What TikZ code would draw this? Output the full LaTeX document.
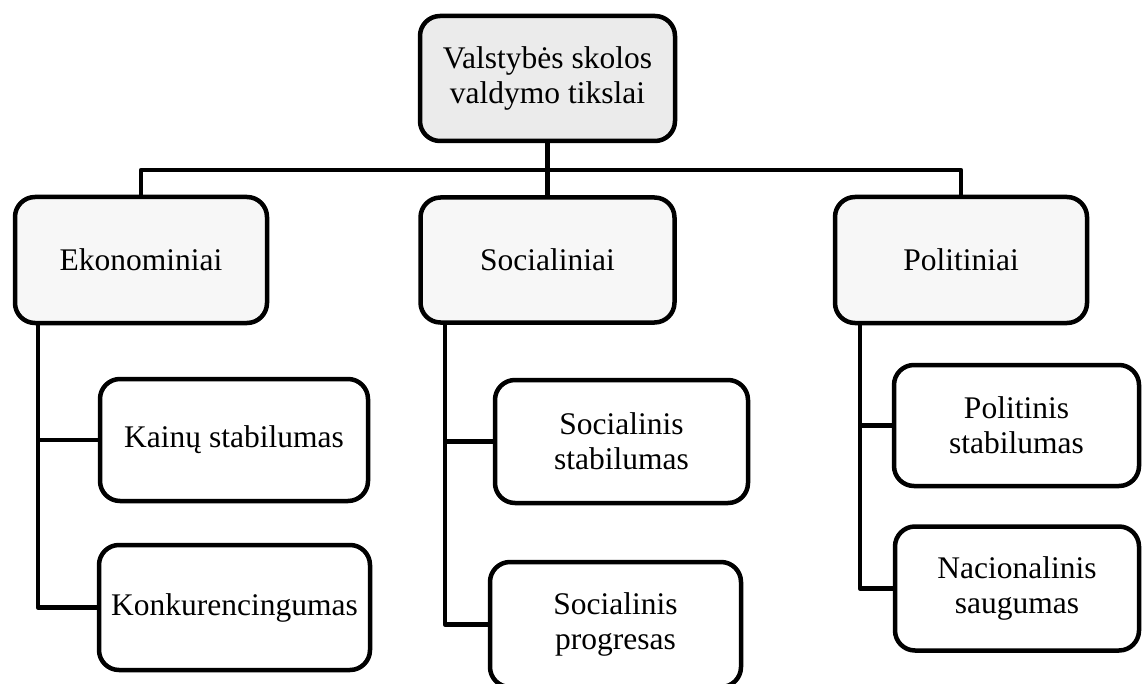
\documentclass[tikz,border=0pt]{standalone}
\usepackage{fontspec}
\setmainfont{Liberation Serif}
\begin{document}
\begin{tikzpicture}[x=1pt,y=-1pt,
  box/.style={draw=black, line width=4.5pt, rounded corners=20pt, inner sep=0pt,
    align=center, font=\fontsize{31.5}{35}\selectfont, text=black},
  rootbox/.style={box, fill={rgb,255:red,235;green,235;blue,235}},
  groupbox/.style={box, fill={rgb,255:red,247;green,247;blue,247}},
  leafbox/.style={box, fill=white},
  link/.style={draw=black, line width=4.5pt, line join=round}]
\clip (0,0) rectangle (1142,684);
\fill[white] (0,0) rectangle (1142,684);

% root
\node[rootbox, minimum width=255pt, minimum height=125pt] (root) at (547.5,78.5)
  {Valstybės skolos\\valdymo tikslai};

% groups
\node[groupbox, minimum width=252pt, minimum height=126pt] (eko) at (141,260) {Ekonominiai};
\node[groupbox, minimum width=254pt, minimum height=125pt] (soc) at (547.5,260) {Socialiniai};
\node[groupbox, minimum width=252pt, minimum height=126pt] (pol) at (961,260) {Politiniai};

% leaves
\node[leafbox, minimum width=268pt, minimum height=122pt] (kain) at (234,440) {Kainų stabilumas};
\node[leafbox, minimum width=271pt, minimum height=125pt] (konk) at (234.5,607.5) {Konkurencingumas};
\node[leafbox, minimum width=253pt, minimum height=123pt] (sstab) at (621.5,441.5) {Socialinis\\stabilumas};
\node[leafbox, minimum width=251pt, minimum height=125pt] (sprog) at (615.5,624.5) {Socialinis\\progresas};
\node[leafbox, minimum width=245pt, minimum height=121pt] (pstab) at (1016.5,425.5) {Politinis\\stabilumas};
\node[leafbox, minimum width=244pt, minimum height=124pt] (nac) at (1017,588.5) {Nacionalinis\\saugumas};

% root to groups
\coordinate (hub) at (547.5,170);
\draw[link] (root.south) -- (hub);
\draw[link] (hub) -| (eko.north);
\draw[link] (hub) -- (soc.north);
\draw[link] (hub) -| (pol.north);

% groups to leaves
\coordinate (ekoT) at ([xshift=-103pt]eko.south);
\coordinate (socT) at ([xshift=-102.5pt]soc.south);
\coordinate (polT) at ([xshift=-101pt]pol.south);
\draw[link] (ekoT) |- (konk.west);
\draw[link] (ekoT) |- (kain.west);
\draw[link] (socT) |- (sprog.west);
\draw[link] (socT) |- (sstab.west);
\draw[link] (polT) |- (nac.west);
\draw[link] (polT) |- (pstab.west);
\end{tikzpicture}
\end{document}
